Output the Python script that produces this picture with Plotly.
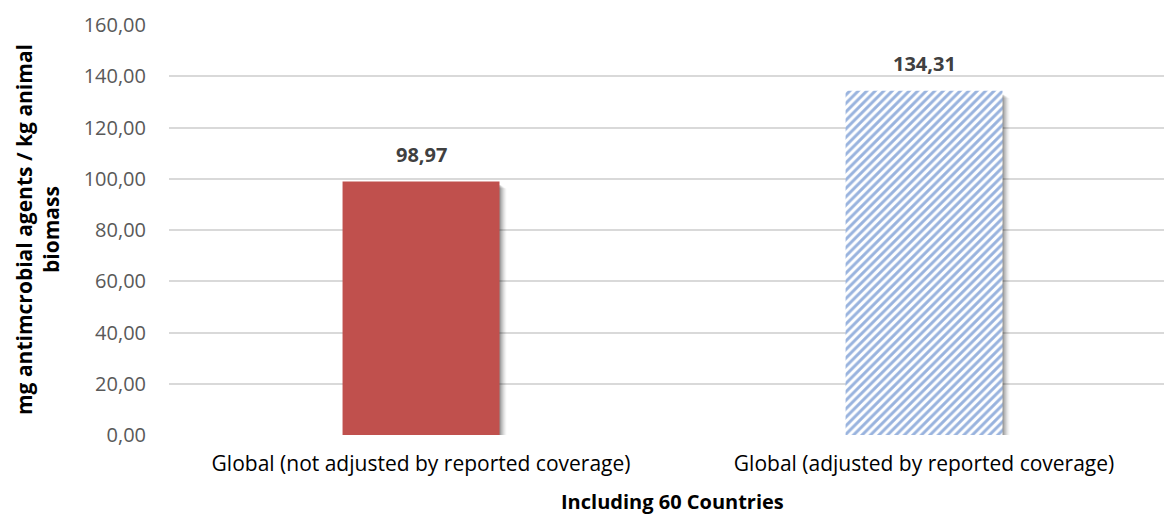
import plotly.graph_objects as go

categories = ["Global (not adjusted by reported coverage)", "Global (adjusted by reported coverage)"]
values = [98.97, 134.31]
y_ticks = [0, 20, 40, 60, 80, 100, 120, 140, 160]

BAR_W = 0.312
PX = 1 / 503.0          # one pixel in x-axis units
PY = 160 / 409.2        # one pixel in y-axis units
FONT = "Open Sans"

fig = go.Figure()

# soft drop shadow under each bar (several faint layers)
for k, alpha in [(1, 0.12), (2, 0.10), (3, 0.08), (4, 0.07), (5, 0.05), (6, 0.04), (7, 0.03)]:
    fig.add_trace(go.Bar(
        x=[0, 1], y=[v - 3 * PY for v in values],
        base=[-k * 0.6 * PY] * 2,
        width=BAR_W, offset=-BAR_W / 2 + k * PX,
        marker=dict(color=f"rgba(0,0,0,{alpha})", line=dict(width=0)),
        hoverinfo="skip", showlegend=False,
    ))

fig.add_trace(go.Bar(
    x=[0], y=[values[0]], width=BAR_W,
    marker=dict(color="#C0504D", line=dict(width=0)),
    showlegend=False,
))
fig.add_trace(go.Bar(
    x=[1], y=[values[1]], width=BAR_W,
    marker=dict(color="white", line=dict(width=0),
                pattern=dict(shape="/", fgcolor="#3468BE", bgcolor="white",
                             size=6, solidity=0.5, fillmode="overlay")),
    showlegend=False,
))

# value labels above the bars
for i, v in enumerate(values):
    fig.add_annotation(
        x=i, y=v, xref="x", yref="y", yshift=27, yanchor="middle",
        text=f"<b>{v:.2f}".replace(".", ",") + "</b>",
        showarrow=False, font=dict(family=FONT, size=20, color="#404040"),
    )

# axis titles
fig.add_annotation(
    x=0.5, xref="x", y=0, yref="paper", yshift=-66, yanchor="middle",
    text="<b>Including 60 Countries</b>", showarrow=False,
    font=dict(family=FONT, size=20, color="#000000"),
)
fig.add_annotation(
    x=0, xref="paper", xshift=-132, xanchor="center",
    y=0.5, yref="paper", yanchor="middle", textangle=-90,
    text="<b>mg antimcrobial agents / kg animal<br>biomass</b>", showarrow=False,
    font=dict(family=FONT, size=21, color="#000000"),
)

fig.update_layout(
    width=1164, height=515,
    margin=dict(l=169, r=0, t=25, b=80),
    paper_bgcolor="white", plot_bgcolor="white",
    barmode="overlay", separators=",.",
    font=dict(family=FONT, size=20, color="#595959"),
    xaxis=dict(
        tickmode="array", tickvals=[0, 1], ticktext=categories,
        range=[-0.501, 1.477], showgrid=False, zeroline=False,
        showline=False, ticks="", ticklabelstandoff=14,
        tickfont=dict(size=21, color="#000000"),
    ),
    yaxis=dict(
        range=[0, 160], tickvals=y_ticks, tickformat=".2f",
        showgrid=True, gridcolor="#D9D9D9", gridwidth=1.5,
        zeroline=False, showline=False, ticks="",
        ticklabelstandoff=22, tickfont=dict(size=20, color="#595959"),
    ),
)

fig.write_html("out.html")
